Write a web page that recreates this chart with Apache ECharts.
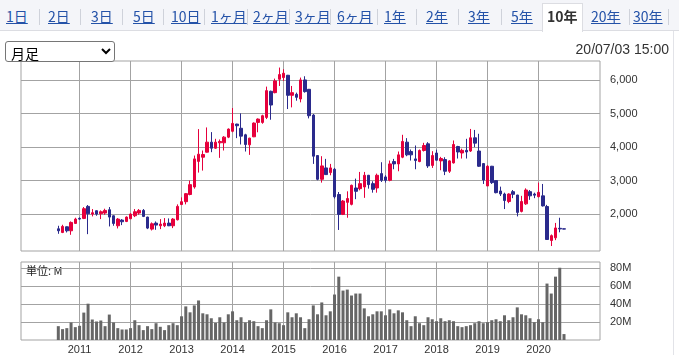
<!DOCTYPE html>
<html><head><meta charset="utf-8">
<script src="https://cdn.jsdelivr.net/npm/echarts@6.0.0/dist/echarts.min.js"></script>
<style>
html,body{margin:0;padding:0;background:#fff;width:679px;height:355px;overflow:hidden;font-family:"Noto Sans CJK JP","Liberation Sans",sans-serif;}
#chart{position:absolute;left:0;top:0;width:679px;height:355px;}
#tabbar{position:absolute;left:0;top:0;width:679px;height:31px;background:#f4f5f9;border-bottom:1px solid #dcdde2;box-sizing:border-box;}
.tab{position:absolute;top:7px;font-size:14px;line-height:18px;color:#2452a8;text-decoration:underline;white-space:nowrap;}
.sep{position:absolute;top:9px;width:1px;height:16px;background:#cfd2da;}
#active{position:absolute;left:542px;top:3px;width:41px;height:29px;background:#fff;border:1px solid #dcdde2;border-bottom:none;box-sizing:border-box;}
#active span{position:absolute;left:4px;top:3px;font-size:14px;line-height:18px;font-weight:bold;color:#333;}
#panelR{position:absolute;left:673px;top:31px;width:1px;height:324px;background:#e2e3e8;}
#sel{position:absolute;left:5px;top:41px;width:110px;height:21px;font-size:14px;font-family:"Noto Sans CJK JP",sans-serif;padding:0 0 0 1px;color:#000;background:#fff;border:1px solid #767676;border-radius:3px;}
#stamp{position:absolute;right:10px;top:40px;font-size:14px;line-height:18px;color:#333;font-family:"Liberation Sans",Arial,sans-serif;}
</style></head>
<body>
<div id="chart"></div>
<div id="tabbar"></div>
<div id="panelR"></div>
<div id="tabs"></div>
<div id="active"><span>10年</span></div>
<select id="sel"><option>月足</option></select>
<div id="stamp">20/07/03 15:00</div>
<script>
// ---- data (monthly, Aug 2010 .. Jul 2020) ----
const startYear = 2010, startMonth = 8;
const yearLabels = ['2011','2012','2013','2014','2015','2016','2017','2018','2019','2020'];
const priceTicks = [2000, 3000, 4000, 5000, 6000];
const volumeTicks = [20, 40, 60, 80];
const openP = [1560,1450,1620,1500,1720,1870,1870,2230,2000,2100, 2010,2030,2130,1950,1650,1820,1780,1860,1950,2030, 2110,1910,1550,1730,1650,1650,1730,1650,1830,2285, 2370,2585,2810,3575,3700,3850,4150,3970,4130,4130, 4300,4475,4690,4565,4370,4070,4310,4740,4740,4890, 5670,5630,6030,6080,6150,5550,5580,5440,6010,5730, 4960,3750,3040,3380,3240,3340,2585,1990,2350,2290, 2780,2760,2810,3160,2910,2780,3210,3110,3010,3570, 3500,3700,4150,3870,3650,3570,3900,4100,3455,3826, 3590,3630,3280,3530,4020,3826,3905,3885,4280,3885, 3510,2840,3430,3000,2690,2600,2375,2670,2570,2080, 2305,2670,2600,2520,2545,2225,1210,1290,1575,1560];
const closeP = [1500,1630,1500,1750,1850,1850,2160,2010,2040,2000, 2070,2110,1910,1720,1850,1770,1910,2000,2070,2110, 1930,1580,1710,1670,1700,1730,1650,1850,2230,2370, 2610,2880,3650,3790,3780,4150,3970,4150,4170,4300, 4540,4710,4640,4330,4080,4270,4720,4840,4940,5690, 5260,5980,6170,6210,5550,5630,5490,6010,5660,4940, 3730,3040,3440,3180,3380,2515,1990,2390,2465,2860, 2680,2910,3160,2880,2740,3160,3010,3010,3500,3500, 3770,4170,3770,3770,3600,3900,4050,3440,3750,3610, 3660,3280,3590,4080,3856,3905,3856,4280,4120,3430, 3017,3430,2940,2640,2600,2405,2600,2590,2050,2375, 2720,2545,2565,2650,2245,1240,1355,1585,1555,1550];
const lowP = [1410,1430,1450,1380,1710,1830,1850,1400,1930,1950, 1850,1980,1630,1650,1570,1670,1760,1850,1910,1980, 1910,1550,1510,1530,1550,1610,1640,1580,1810,2270, 2290,2560,2760,3240,3300,3840,3850,3950,3680,3900, 4270,4445,4270,4080,3870,3770,4300,4445,4700,4840, 4820,5610,5830,5980,5140,5190,5390,5340,5630,4860, 3500,3010,2940,3170,3160,2465,1525,1970,1890,2260, 2445,2710,2485,2760,2640,2640,2960,2940,2980,3340, 3280,3670,3730,3600,3340,3550,3870,3380,3380,3600, 3310,3165,3230,3510,3660,3660,3660,3856,4000,3410, 2900,2840,2900,2620,2540,2150,2325,2475,1930,2050, 2275,2425,2475,2500,2225,1235,1045,1220,1455,1545];
const highP = [1650,1680,1630,1780,1890,1900,2210,2270,2150,2110, 2110,2160,2210,1960,1880,1850,1930,2020,2150,2150, 2150,1920,1750,1780,1850,1880,1870,1880,2290,2500, 2630,3000,3750,4540,3900,4590,4450,4250,4230,4330, 4560,5170,4700,5010,4400,4280,4740,4860,4970,5810, 5690,6050,6380,6330,6160,5830,5630,6080,6120,5740, 4990,3760,3730,3650,3500,3380,2660,2420,2680,2880, 3060,3260,3260,3170,2980,3210,3550,3160,3600,3650, 3870,4370,4270,3930,4050,3930,4130,4150,3880,3925, 3710,3700,3610,4200,4040,3955,4250,4545,4515,4400, 3520,3460,3440,3000,2820,2640,2620,2720,2575,2545, 2770,2720,2640,2940,2900,2275,1390,1735,1890,1570];
const volumeM = [15.4,12.1,13.2,19.5,14.3,15.8,30.5,40.4,22.8,20.6, 21.7,15.4,28.3,19.5,13.2,11.7,11.7,13.2,22.0,16.5, 11.0,15.4,12.1,18.7,14.7,11.0,16.5,18.7,16.5,26.4, 37.4,30.8,38.5,44.0,29.7,28.6,24.2,19.1,25.3,19.5, 28.6,31.9,22.0,25.3,19.5,22.0,20.9,15.4,13.2,22.0, 34.1,19.5,18.7,16.5,30.8,25.3,29.7,25.3,13.2,23.1, 38.5,28.6,41.8,27.5,31.9,50.6,70.5,55.0,56.1,49.5, 51.7,51.7,35.2,26.4,28.6,31.9,31.9,27.5,34.1,29.7, 33.0,30.8,22.0,15.4,26.4,18.7,16.5,25.3,23.1,20.9, 24.2,20.9,22.0,20.9,15.4,14.3,15.4,16.5,18.7,20.9, 18.7,19.8,22.0,23.1,20.9,27.5,22.0,25.3,36.3,28.6, 27.5,24.2,19.8,23.1,19.8,62.8,51.7,70.5,80.4,6.6];
const tabLabels = ['1日','2日','3日','5日','10日','1ヶ月','2ヶ月','3ヶ月','6ヶ月','1年','2年','3年','5年','20年','30年'];

// ---- header tabs (page chrome) ----
const tabLeft = [6,48,91,133,171,211,253,295,337,384,426,468,511,591,633];
const sepLeft = [39,80,122,163,204,247,289,330,377,416,458,501,629,668];
const tabsEl = document.getElementById('tabs');
tabLabels.forEach((t, k) => {
  const s = document.createElement('span'); s.className = 'tab'; s.textContent = t; s.style.left = tabLeft[k] + 'px'; tabsEl.appendChild(s);
});
sepLeft.forEach(x => { const d = document.createElement('div'); d.className = 'sep'; d.style.left = x + 'px'; tabsEl.appendChild(d); });

// ---- chart ----
const yearIdx = yearLabels.map(y => (Number(y) - startYear) * 12 - (startMonth - 1));
const candles = openP.map((o, i) => [i, o, closeP[i], lowP[i], highP[i]]);
const vols = volumeM.map((v, i) => [i, v]);
const gridC = '#a3a3a3';
const lblFont = {color: '#333', fontSize: 11, fontFamily: '"Liberation Sans", Arial, sans-serif'};
const xMin = -8.78, xMax = 127.47;

function xAx(gi, showLabel) {
  return {
    type: 'value', gridIndex: gi, min: xMin, max: xMax,
    axisLine: {show: false},
    axisTick: {show: false, customValues: yearIdx},
    axisLabel: Object.assign({show: showLabel, customValues: yearIdx, margin: 4,
      formatter: v => yearLabels[yearIdx.indexOf(Math.round(v))] || ''}, lblFont),
    splitLine: {show: true, lineStyle: {color: gridC, width: 1}}
  };
}
function yAx(gi, mn, mx, ticks, fmt) {
  return {
    type: 'value', gridIndex: gi, position: 'right', min: mn, max: mx,
    axisLine: {show: false},
    axisTick: {show: true, inside: false, length: 5, customValues: ticks, lineStyle: {color: gridC}},
    axisLabel: Object.assign({customValues: ticks, margin: 10, formatter: fmt}, lblFont),
    splitLine: {show: true, lineStyle: {color: gridC, width: 1}}
  };
}

const chart = echarts.init(document.getElementById('chart'), null, {renderer: 'canvas'});
chart.setOption({
  animation: false,
  grid: [
    {left: 21, top: 61, width: 579, height: 190, show: true, borderColor: gridC, borderWidth: 1, backgroundColor: 'transparent'},
    {left: 21, top: 262, width: 579, height: 79, show: true, borderColor: gridC, borderWidth: 1, backgroundColor: 'transparent'}
  ],
  xAxis: [xAx(0, false), xAx(1, true)],
  yAxis: [
    yAx(0, 896, 6576, priceTicks, v => v.toLocaleString('en-US')),
    yAx(1, 0, 86.8, volumeTicks, v => v + 'M')
  ],
  graphic: [{type: 'text', left: 26, top: 265, style: {text: '単位: M', fill: '#222', fontSize: 11, fontFamily: '"Noto Sans CJK JP", sans-serif'}}],
  series: [
    {type: 'candlestick', xAxisIndex: 0, yAxisIndex: 0, data: candles, barWidth: 3,
     itemStyle: {color: '#e6003c', color0: '#2a2a8c', borderColor: '#e6003c', borderColor0: '#2a2a8c', borderWidth: 1}},
    {type: 'bar', xAxisIndex: 1, yAxisIndex: 1, data: vols, barWidth: 3, itemStyle: {color: '#666'}}
  ]
});
</script>
</body></html>
